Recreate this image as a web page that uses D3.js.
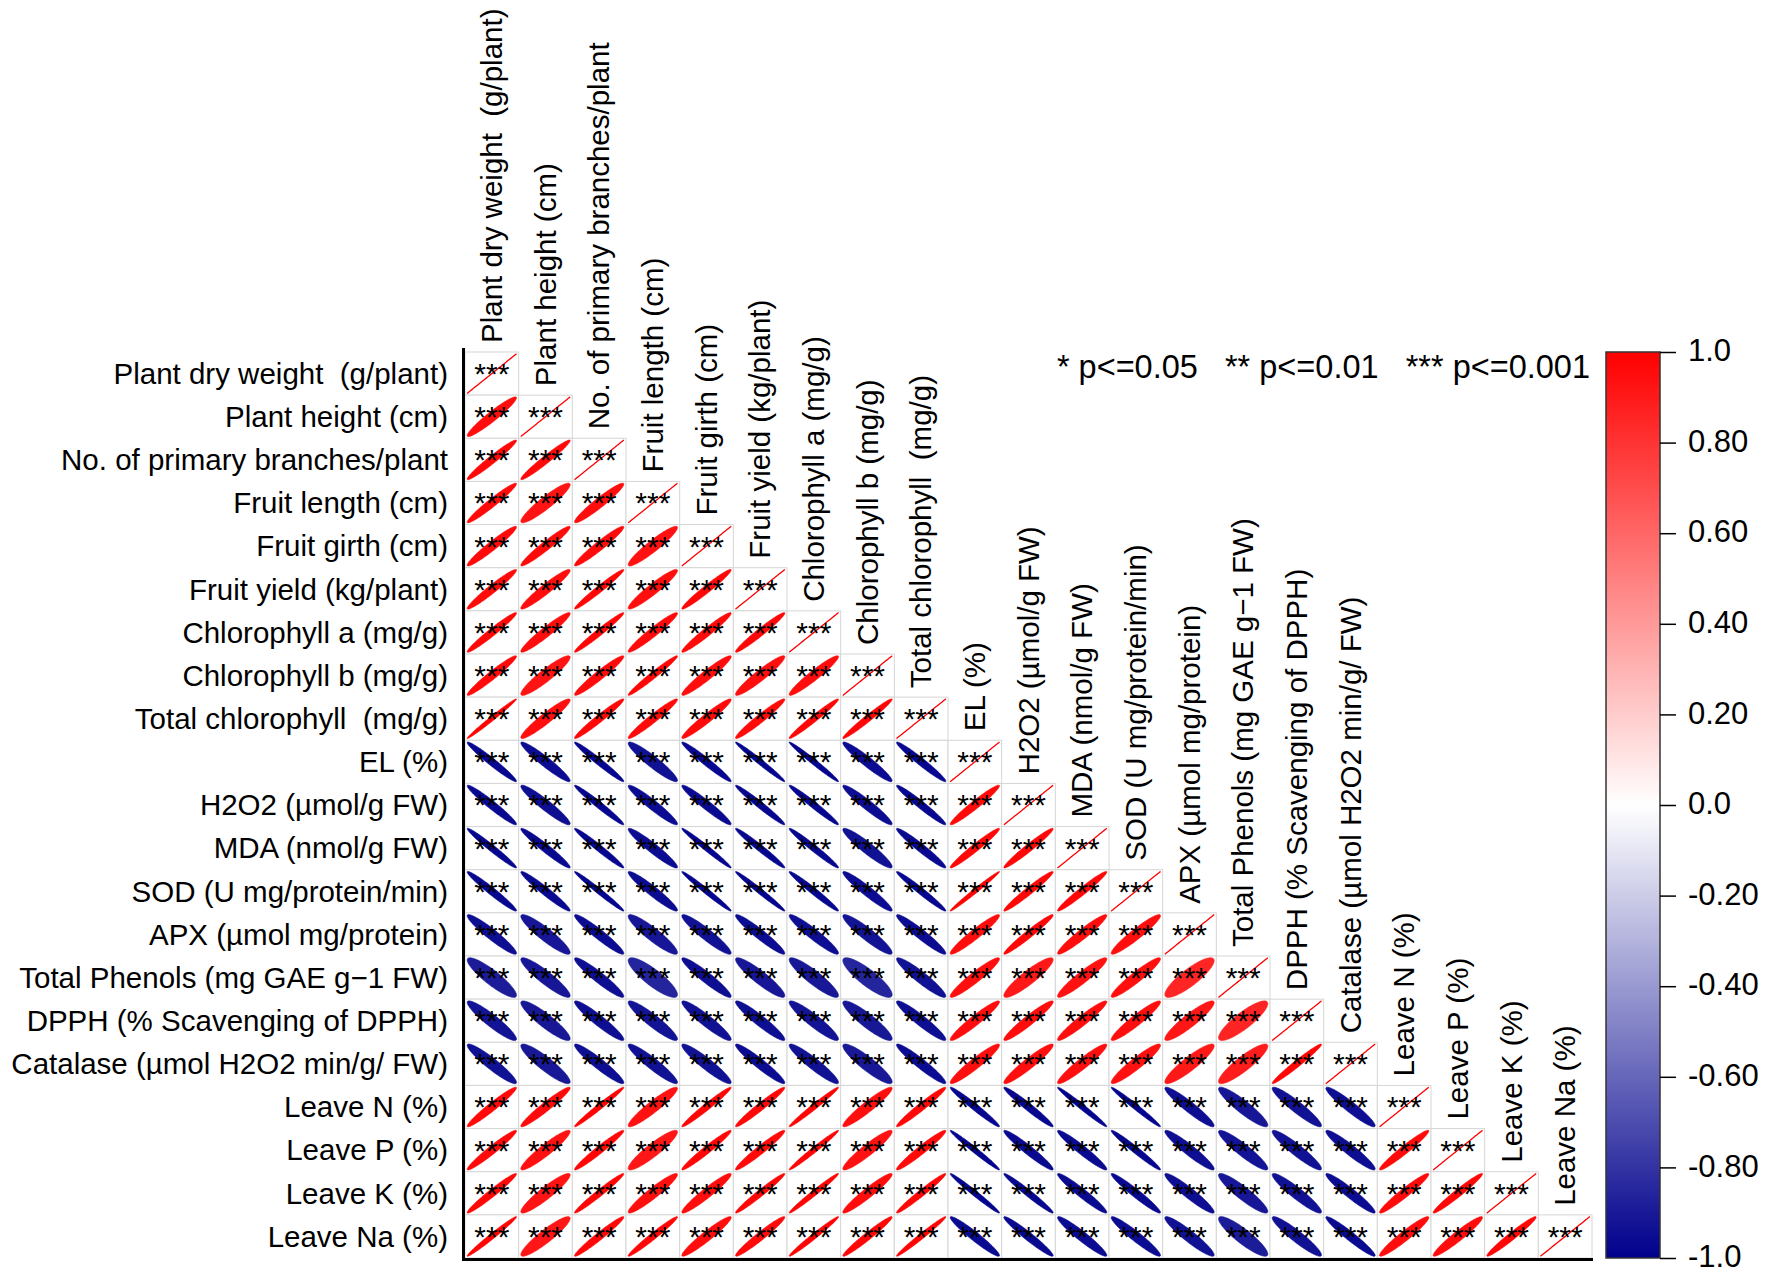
<!DOCTYPE html>
<html lang="en">
<head>
<meta charset="UTF-8">
<title>Correlation plot</title>
<script src="https://d3js.org/d3.v7.min.js"></script>
<style>
    body { margin: 0; background: #fff; }
    svg { display: block; font-family: "Liberation Sans", Arial, sans-serif; }
</style>
</head>
<body>
<div id="chart"></div>
<script>
// variable names (rows and columns, same order)
const rowLabels = [
    "Plant dry weight  (g/plant)", "Plant height (cm)", "No. of primary branches/plant",
    "Fruit length (cm)", "Fruit girth (cm)", "Fruit yield (kg/plant)",
    "Chlorophyll a (mg/g)", "Chlorophyll b (mg/g)", "Total chlorophyll  (mg/g)",
    "EL (%)", "H2O2 (µmol/g FW)", "MDA (nmol/g FW)", "SOD (U mg/protein/min)",
    "APX (µmol mg/protein)", "Total Phenols (mg GAE g\u22121 FW)", "DPPH (% Scavenging of DPPH)",
    "Catalase (µmol H2O2 min/g/ FW)", "Leave N (%)", "Leave P (%)", "Leave K (%)", "Leave Na (%)"
];
const colLabels = rowLabels.slice();

// lower triangle of the correlation matrix, read from the ellipse widths (row i has i+1 values)
const corrRows = [
    [1],
    [0.952, 1],
    [0.970, 0.970, 1],
    [0.966, 0.925, 0.952, 1],
    [0.960, 0.960, 0.960, 0.935, 1],
    [0.966, 0.952, 0.978, 0.944, 0.972, 1],
    [0.972, 0.952, 0.978, 0.960, 0.966, 0.972, 1],
    [0.966, 0.925, 0.960, 0.978, 0.952, 0.944, 0.952, 1],
    [0.990, 0.944, 0.972, 0.966, 0.960, 0.966, 0.978, 0.978, 1],
    [-0.972, -0.952, -0.978, -0.935, -0.972, -0.985, -0.985, -0.952, -0.972, 1],
    [-0.966, -0.944, -0.978, -0.952, -0.960, -0.978, -0.978, -0.952, -0.972, 0.966, 1],
    [-0.978, -0.966, -0.978, -0.952, -0.985, -0.978, -0.978, -0.935, -0.966, 0.972, 0.972, 1],
    [-0.972, -0.966, -0.985, -0.952, -0.985, -0.985, -0.978, -0.952, -0.978, 0.990, 0.972, 0.972, 1],
    [-0.944, -0.915, -0.952, -0.915, -0.935, -0.952, -0.944, -0.925, -0.952, 0.952, 0.972, 0.952, 0.944, 1],
    [-0.890, -0.915, -0.944, -0.860, -0.944, -0.915, -0.905, -0.860, -0.935, 0.944, 0.905, 0.935, 0.944, 0.855, 1],
    [-0.925, -0.905, -0.944, -0.925, -0.935, -0.944, -0.925, -0.905, -0.944, 0.952, 0.952, 0.952, 0.944, 0.915, 0.860, 1],
    [-0.935, -0.905, -0.944, -0.935, -0.935, -0.952, -0.935, -0.905, -0.952, 0.944, 0.944, 0.944, 0.935, 0.905, 0.890, 0.978, 1],
    [0.966, 0.960, 0.985, 0.935, 0.978, 0.972, 0.985, 0.944, 0.972, -0.978, -0.972, -0.985, -0.985, -0.944, -0.915, -0.935, -0.944, 1],
    [0.966, 0.935, 0.972, 0.915, 0.972, 0.966, 0.985, 0.935, 0.966, -0.985, -0.960, -0.960, -0.978, -0.944, -0.925, -0.935, -0.944, 0.966, 1],
    [0.972, 0.925, 0.978, 0.944, 0.952, 0.978, 0.985, 0.952, 0.978, -0.985, -0.978, -0.960, -0.966, -0.944, -0.915, -0.935, -0.952, 0.960, 0.972, 1],
    [0.985, 0.915, 0.972, 0.978, 0.952, 0.966, 0.985, 0.972, 0.985, -0.960, -0.966, -0.952, -0.952, -0.935, -0.890, -0.935, -0.960, 0.952, 0.952, 0.972, 1]
];

// every cell in the figure is marked p<=0.001
const cellMark = "***";
const legendText = "* p<=0.05   ** p<=0.01   *** p<=0.001";

const colorTicks = [1, 0.8, 0.6, 0.4, 0.2, 0, -0.2, -0.4, -0.6, -0.8, -1];
const colorTickLabels = ["1.0", "0.80", "0.60", "0.40", "0.20", "0.0", "-0.20", "-0.40", "-0.60", "-0.80", "-1.0"];

const width = 1770, height = 1274;
const gridLeft = 465, gridRight = 1592, gridTop = 352, gridBottom = 1258;

const svg = d3.select("#chart").append("svg")
    .attr("width", width)
    .attr("height", height);

const x = d3.scaleBand().domain(d3.range(colLabels.length)).range([gridLeft, gridRight]);
const y = d3.scaleBand().domain(d3.range(rowLabels.length)).range([gridTop, gridBottom]);

const color = d3.scaleLinear()
    .domain([-1, 0, 1])
    .range(["#00008c", "#ffffff", "#ff0000"]);

const cells = [];
corrRows.forEach((row, i) => row.forEach((r, j) => cells.push({ i, j, r })));

// ellipse outline for a correlation r inside a cell
function ellipsePath(d) {
    const cx = x(d.j) + x.bandwidth() / 2;
    const cy = y(d.i) + y.bandwidth() / 2;
    const a = x.bandwidth() / 2 * 0.92;
    const b = y.bandwidth() / 2 * 0.92;
    const dd = Math.acos(Math.max(-1, Math.min(1, d.r)));
    const pts = d3.range(0, 361, 4).map(k => {
        const t = k * Math.PI / 180;
        return [cx + a * Math.cos(t + dd / 2), cy - b * Math.cos(t - dd / 2)];
    });
    return d3.line()(pts) + "Z";
}

const g = svg.append("g");

g.selectAll(".cell")
    .data(cells)
    .enter()
    .append("rect")
    .attr("class", "cell")
    .attr("x", d => x(d.j))
    .attr("y", d => y(d.i))
    .attr("width", x.bandwidth())
    .attr("height", y.bandwidth())
    .attr("fill", "#fff")
    .attr("stroke", "#d6d6d6")
    .attr("stroke-width", 1);

g.selectAll(".ell")
    .data(cells)
    .enter()
    .append("path")
    .attr("class", "ell")
    .attr("d", ellipsePath)
    .attr("fill", d => color(d.r))
    .attr("stroke", d => color(d.r))
    .attr("stroke-width", d => d.i === d.j ? 1.3 : 0.6);

g.selectAll(".mark")
    .data(cells)
    .enter()
    .append("text")
    .attr("class", "mark")
    .attr("x", d => x(d.j) + x.bandwidth() / 2)
    .attr("y", d => y(d.i) + 32)
    .attr("text-anchor", "middle")
    .style("font-size", "30px")
    .text(cellMark);

// row labels
svg.selectAll(".rowlab")
    .data(rowLabels)
    .enter()
    .append("text")
    .attr("class", "rowlab")
    .attr("x", gridLeft - 17)
    .attr("y", (d, i) => y(i) + y.bandwidth() / 2)
    .attr("dy", "0.35em")
    .attr("text-anchor", "end")
    .style("font-size", "29.5px")
    .style("white-space", "pre")
    .text(d => d);

// column labels, staggered above the diagonal
svg.selectAll(".collab")
    .data(colLabels)
    .enter()
    .append("text")
    .attr("class", "collab")
    .attr("transform", (d, j) => `translate(${x(j) + x.bandwidth() / 2},${y(j) - 9}) rotate(-90)`)
    .attr("dy", "0.35em")
    .attr("text-anchor", "start")
    .style("font-size", "29.5px")
    .style("white-space", "pre")
    .text(d => d);

// frame: left and bottom axis lines
svg.append("line")
    .attr("x1", gridLeft - 1.5).attr("x2", gridLeft - 1.5)
    .attr("y1", gridTop - 4).attr("y2", gridBottom + 3)
    .attr("stroke", "#000").attr("stroke-width", 3);
svg.append("line")
    .attr("x1", gridLeft - 3).attr("x2", gridRight + 1)
    .attr("y1", gridBottom + 1.5).attr("y2", gridBottom + 1.5)
    .attr("stroke", "#000").attr("stroke-width", 3);

// significance legend
svg.append("text")
    .attr("x", 1590)
    .attr("y", 378)
    .attr("text-anchor", "end")
    .style("font-size", "32.5px")
    .style("white-space", "pre")
    .text(legendText);

// colour bar
const barX = 1606, barW = 54;
const cy = d3.scaleLinear().domain([-1, 1]).range([gridBottom, gridTop]);

const grad = svg.append("defs").append("linearGradient")
    .attr("id", "cbar")
    .attr("x1", 0).attr("y1", 1).attr("x2", 0).attr("y2", 0);
d3.range(-1, 1.0001, 0.1).forEach(v => {
    grad.append("stop")
        .attr("offset", (v + 1) / 2)
        .attr("stop-color", color(v));
});

svg.append("rect")
    .attr("x", barX)
    .attr("y", gridTop)
    .attr("width", barW)
    .attr("height", gridBottom - gridTop)
    .attr("fill", "url(#cbar)")
    .attr("stroke", "#333")
    .attr("stroke-width", 1.5);

const cAxis = svg.append("g")
    .attr("transform", `translate(${barX + barW},0)`)
    .call(d3.axisRight(cy)
        .tickValues(colorTicks)
        .tickSize(16)
        .tickPadding(12)
        .tickFormat((d, i) => colorTickLabels[i]));
cAxis.select(".domain").remove();
cAxis.selectAll(".tick line").attr("stroke", "#000").attr("stroke-width", 1.5);
cAxis.selectAll(".tick text")
    .attr("fill", "#000")
    .attr("dy", "0.28em")
    .style("font-size", "31px")
    .style("font-family", "\"Liberation Sans\", Arial, sans-serif");
</script>
</body>
</html>
